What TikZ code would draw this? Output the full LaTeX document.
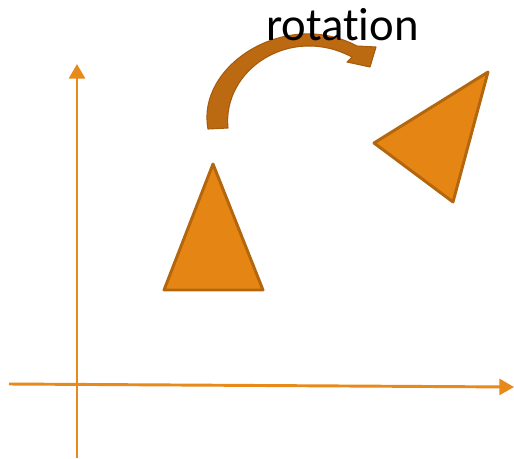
\documentclass[tikz,border=0pt]{standalone}
\usepackage{fontspec}
\setmainfont{Carlito}[Ligatures=NoCommon]
\usetikzlibrary{arrows.meta}
\definecolor{AxisOrange}{HTML}{E8891C}
\definecolor{ShapeOrange}{HTML}{E58513}
\definecolor{EdgeBrown}{HTML}{B3660E}
\definecolor{ArrowBrown}{HTML}{BC6A12}
\definecolor{ArrowEdge}{HTML}{A65A0C}
\tikzset{
  axis/.style={draw=AxisOrange, line width=2.2pt, -{Triangle[length=11pt, width=12pt]}},
  triblock/.style={fill=ShapeOrange, draw=EdgeBrown, line width=2.2pt, line join=round},
  turnarrow/.style={fill=ArrowBrown, draw=ArrowEdge, line width=0.8pt, line join=round},
  rotlabel/.style={font=\fontsize{35}{40}\selectfont, text=black, inner sep=0pt}
}
\begin{document}
\begin{tikzpicture}[x=0.75pt, y=-0.75pt]
\useasboundingbox (0,0) rectangle (514,458);
% axes
\coordinate (ybot) at (77,458);
\coordinate (ytop) at (77,64);
\coordinate (xleft) at (9,384);
\coordinate (xright) at (514,387);
\draw[axis] (ybot) -- (ytop);
\draw[axis] (xleft) -- (xright);
% original triangle
\draw[triblock] (213,164) -- (263,290) -- (164,290) -- cycle;
% rotated triangle
\draw[triblock] (374,143) -- (488,72) -- (453,202) -- cycle;
% curved arrow
\draw[turnarrow] (208,129) .. controls (196,66) and (285,8) .. (357,46)
  -- (376,47) -- (370,67) -- (347,62) -- (352,57)
  .. controls (290,24) and (222,70) .. (228,128) -- cycle;
\node[rotlabel, anchor=base] (rot) at (342.5,40) {rotation};
\end{tikzpicture}
\end{document}
